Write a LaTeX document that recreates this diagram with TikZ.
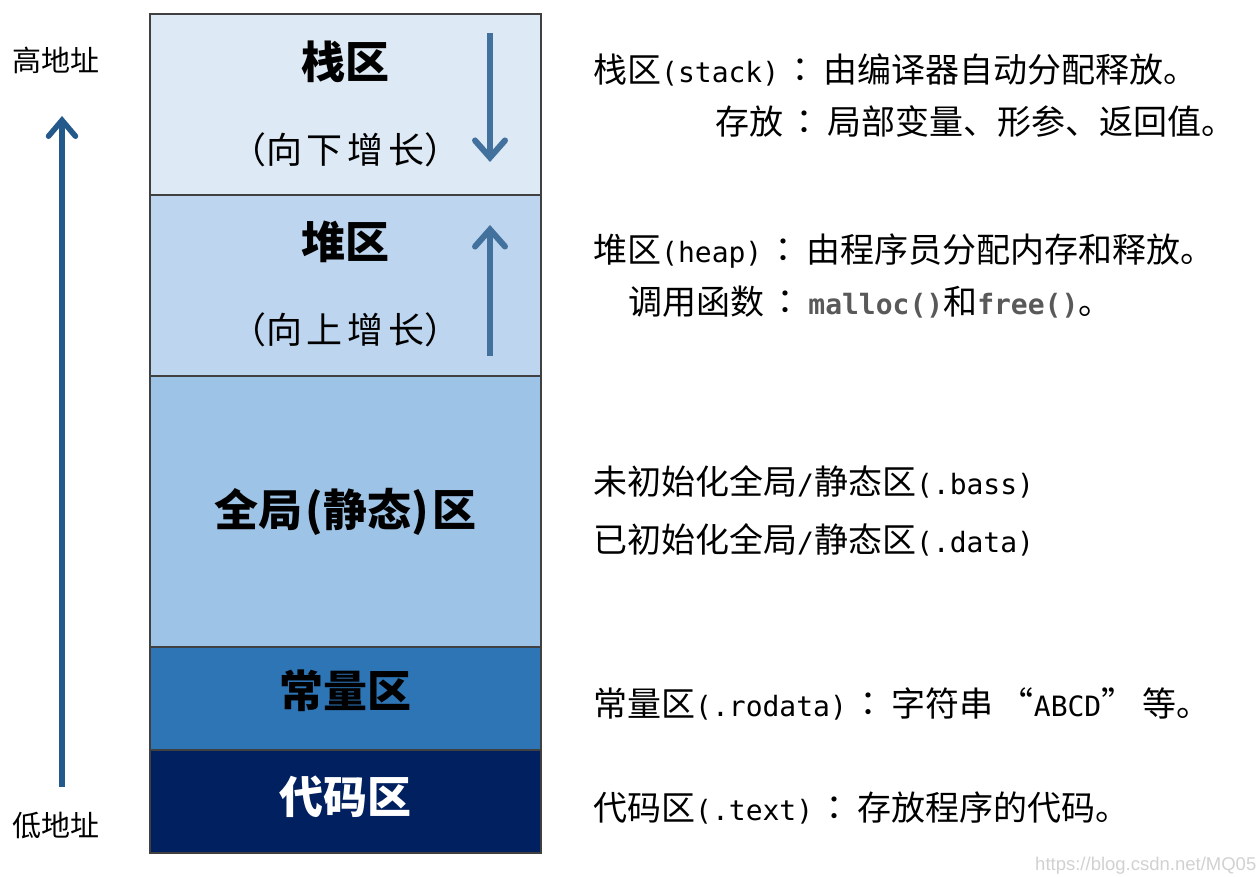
\documentclass[tikz,border=0pt]{standalone}
\usepackage{fontspec}
\setmainfont{Noto Sans CJK SC}
\newfontfamily\jpfont{Noto Sans CJK JP}
\newfontfamily\dejamono{DejaVu Sans Mono}
\newfontfamily\wmfont{Liberation Sans}
\usetikzlibrary{positioning,arrows.meta}
\definecolor{StackBlue}{HTML}{DDE9F5}
\definecolor{HeapBlue}{HTML}{BDD5EE}
\definecolor{GlobalBlue}{HTML}{9DC3E6}
\definecolor{ConstBlue}{HTML}{2E75B6}
\definecolor{CodeBlue}{HTML}{002060}
\definecolor{GrowBlue}{HTML}{41719C}
\definecolor{AddrBlue}{HTML}{23598B}
\definecolor{EdgeGray}{HTML}{404040}
\newcommand\asc[1]{{\dejamono\fontsize{28}{34}\selectfont #1}}
\newcommand\colonjp{\hspace{0.12em}{\jpfont ：}\hspace{0.18em}}
\newcommand\gap{\hspace{5pt}}

\begin{document}
\begin{tikzpicture}[x=1pt, y=-1pt,
  seg/.style={draw=EdgeGray, line width=1.3pt, minimum width=391pt, outer sep=0pt, inner sep=0pt},
  title/.style={font=\fontsize{44}{50}\selectfont\bfseries, inner sep=0pt},
  sub/.style={font=\fontsize{36}{42}\selectfont, inner sep=0pt},
  desc/.style={anchor=west, font=\fontsize{34}{40}\selectfont, inner sep=0pt},
  addr/.style={font=\fontsize{29}{34}\selectfont, inner sep=0pt},
  growarrow/.style={-{Straight Barb[length=17pt, width=30pt, line cap=round]}, line width=6pt, GrowBlue},
  addrarrow/.style={-{Straight Barb[length=16pt, width=27pt, line cap=round]}, line width=5.5pt, AddrBlue}]
\useasboundingbox (0,0) rectangle (1257,877);
% memory segments
\node[seg, fill=StackBlue, minimum height=181pt, anchor=north] (stack) at (345.5,14) {};
\node[seg, fill=HeapBlue, minimum height=181pt, below=0pt of stack] (heap) {};
\node[seg, fill=GlobalBlue, minimum height=271pt, below=0pt of heap] (global) {};
\node[seg, fill=ConstBlue, minimum height=103pt, below=0pt of global] (const) {};
\node[seg, fill=CodeBlue, minimum height=103pt, below=0pt of const] (code) {};
% segment labels
\node[title] (stacklbl) at ([yshift=-48pt]stack.north) {栈区};
\node[sub] (stacksub) at ([yshift=-136pt]stack.north) {（向\gap 下\gap 增\gap 长）};
\node[title] (heaplbl) at ([yshift=-47pt]heap.north) {堆区};
\node[sub] (heapsub) at ([yshift=-135pt]heap.north) {（向\gap 上\gap 增\gap 长）};
\node[title] (globallbl) at (global) {全局\hspace{3pt}(静态)\hspace{3pt}区};
\node[title] (constlbl) at ([yshift=8pt]const) {常量区};
\node[title, white] (codelbl) at ([yshift=5pt]code) {代码区};
% growth arrows
\coordinate (stacktop) at (490,33);
\coordinate (stackend) at (490,162);
\coordinate (heapbot) at (490,356);
\coordinate (heapend) at (490,225);
\draw[growarrow] (stacktop) -- (stackend);
\draw[growarrow] (heapbot) -- (heapend);
% address axis
\node[addr] (high) at (56,60) {高地址};
\node[addr] (low) at (56,826) {低地址};
\coordinate (axisbot) at (62,787);
\coordinate (axistop) at (62,116);
\draw[addrarrow] (axisbot) -- (axistop);
% descriptions
\node[desc] (stackd1) at (593,70) {栈区\asc{(stack)}\colonjp 由编译器自动分配释放。};
\node[desc] (stackd2) at (715,122) {存放\colonjp 局部变量、形参、返回值。};
\node[desc] (heapd1) at (593,251) {堆区\asc{(heap)}\colonjp 由程序员分配内存和释放。};
\node[desc] (heapd2) at (628,302) {调用函数\colonjp\textcolor{black!65}{\asc{\bfseries malloc()}}和\textcolor{black!65}{\asc{\bfseries free()}}。};
\node[desc] (globald1) at (593,482) {未初始化全局\asc{/}静态区\asc{(.bass)}};
\node[desc] (globald2) at (593,540) {已初始化全局\asc{/}静态区\asc{(.data)}};
\node[desc] (constd) at (593,704) {常量区\asc{(.rodata)}\colonjp 字符串\hspace{0.2em}“\asc{ABCD}”\hspace{0.2em}等。};
\node[desc] (coded) at (593,808) {代码区\asc{(.text)}\colonjp 存放程序的代码。};
% watermark
\node[anchor=west, inner sep=0pt, font=\wmfont\fontsize{18.5}{22}\selectfont, text=black!18] (mark) at (1035,866) {https://blog.csdn.net/MQ05};
\end{tikzpicture}
\end{document}
